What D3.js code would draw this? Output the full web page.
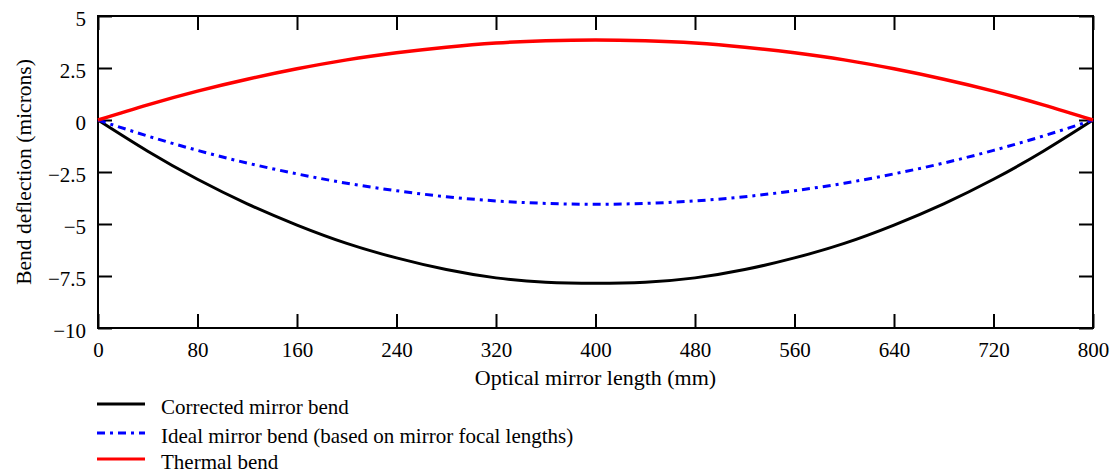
<!DOCTYPE html>
<html>
<head>
<meta charset="utf-8">
<script src="https://cdn.jsdelivr.net/npm/d3@7"></script>
<style>
  html, body { margin: 0; padding: 0; background: #fff; }
  svg { display: block; }
  svg text { font-family: "Liberation Serif", Tinos, "DejaVu Serif", serif !important; fill: #000; }
</style>
</head>
<body>
<svg id="chart" width="1113" height="469" font-family="Liberation Serif, DejaVu Serif, serif"></svg>
<script>
// Mirror length positions (mm)
const positions = [0, 40, 80, 120, 160, 200, 240, 280, 320, 360, 400,
                   440, 480, 520, 560, 600, 640, 680, 720, 760, 800];

// Bend deflection (microns)
const correctedBend = [0, -1.50, -2.85, -4.03, -5.05, -5.93, -6.63, -7.19, -7.59, -7.80, -7.85,
                       -7.80, -7.59, -7.19, -6.63, -5.93, -5.05, -4.03, -2.85, -1.50, 0];
const idealBend = [0, -0.77, -1.46, -2.07, -2.59, -3.04, -3.40, -3.69, -3.89, -4.01, -4.05,
                   -4.01, -3.89, -3.69, -3.40, -3.04, -2.59, -2.07, -1.46, -0.77, 0];
const thermalBend = [0, 0.73, 1.39, 1.96, 2.46, 2.89, 3.23, 3.50, 3.70, 3.81, 3.85,
                     3.81, 3.70, 3.50, 3.23, 2.89, 2.46, 1.96, 1.39, 0.73, 0];

// Axis ticks
const xTicks = [0, 80, 160, 240, 320, 400, 480, 560, 640, 720, 800];
const yTicks = [5, 2.5, 0, -2.5, -5, -7.5, -10];
const yTickLabels = ["5", "2.5", "0", "\u22122.5", "\u22125", "\u22127.5", "\u221210"];

const seriesNames = ["Corrected mirror bend",
                     "Ideal mirror bend (based on mirror focal lengths)",
                     "Thermal bend"];
const seriesColors = ["#000000", "#0000ff", "#ff0000"];

const fontFamily = "'Liberation Serif', Tinos, 'DejaVu Serif', serif";

const svg = d3.select("#chart");
const plotLeft = 98, plotRight = 1093, plotTop = 16, plotBottom = 328;

const x = d3.scaleLinear().domain([0, 800]).range([plotLeft, plotRight]);
const y = d3.scaleLinear().domain([-10, 5]).range([plotBottom, plotTop]);

// Frame
svg.append("rect")
  .attr("x", plotLeft).attr("y", plotTop)
  .attr("width", plotRight - plotLeft).attr("height", plotBottom - plotTop)
  .attr("fill", "none").attr("stroke", "#000").attr("stroke-width", 2);

const tickLen = 14;

// Bottom axis: inward ticks with labels
const gx = svg.append("g").attr("transform", `translate(0,${plotBottom})`)
  .call(d3.axisBottom(x).tickValues(xTicks).tickFormat(d3.format("d"))
        .tickSizeInner(-tickLen).tickSizeOuter(0).tickPadding(0));
gx.attr("font-family", fontFamily).attr("font-size", 21);
gx.select(".domain").remove();
gx.selectAll("line").attr("stroke", "#000").attr("stroke-width", 2);
gx.selectAll("text").attr("y", 29).attr("dy", null);

// Top axis: ticks only
const gxt = svg.append("g").attr("transform", `translate(0,${plotTop})`)
  .call(d3.axisTop(x).tickValues(xTicks).tickFormat("")
        .tickSizeInner(-tickLen).tickSizeOuter(0));
gxt.select(".domain").remove();
gxt.selectAll("line").attr("stroke", "#000").attr("stroke-width", 2);

// Left axis: inward ticks with labels
const gy = svg.append("g").attr("transform", `translate(${plotLeft},0)`)
  .call(d3.axisLeft(y).tickValues(yTicks).tickFormat((d, i) => yTickLabels[i])
        .tickSizeInner(-tickLen).tickSizeOuter(0).tickPadding(0));
gy.attr("font-family", fontFamily).attr("font-size", 21);
gy.select(".domain").remove();
gy.selectAll("line").attr("stroke", "#000").attr("stroke-width", 2);
gy.selectAll("text").attr("x", -12).attr("dy", null).attr("y", 9);

// Right axis: ticks only
const gyr = svg.append("g").attr("transform", `translate(${plotRight},0)`)
  .call(d3.axisRight(y).tickValues(yTicks).tickFormat("")
        .tickSizeInner(-tickLen).tickSizeOuter(0));
gyr.select(".domain").remove();
gyr.selectAll("line").attr("stroke", "#000").attr("stroke-width", 2);

// Axis titles
svg.append("text")
  .attr("x", (plotLeft + plotRight) / 2).attr("y", 385)
  .attr("text-anchor", "middle")
  .attr("font-family", fontFamily)
  .attr("font-size", 22)
  .text("Optical mirror length (mm)");

svg.append("text")
  .attr("transform", `translate(31,${(plotTop + plotBottom) / 2}) rotate(-90)`)
  .attr("text-anchor", "middle")
  .attr("font-family", fontFamily)
  .attr("font-size", 21.5)
  .text("Bend deflection (microns)");

// Curves
const line = d3.line().x((d, i) => x(positions[i])).y(d => y(d)).curve(d3.curveNatural);
const series = [correctedBend, idealBend, thermalBend];
const dashes = [null, "8,5,3,5", null];
const widths = [3, 3, 3.5];

const plot = svg.append("g");
series.forEach((s, k) => {
  plot.append("path")
    .datum(s)
    .attr("d", line)
    .attr("fill", "none")
    .attr("stroke", seriesColors[k])
    .attr("stroke-width", widths[k])
    .attr("stroke-dasharray", dashes[k]);
});

// Legend
const legendY = [404, 433, 459];
const legend = svg.append("g");
seriesNames.forEach((name, k) => {
  legend.append("line")
    .attr("x1", 97).attr("x2", 145)
    .attr("y1", legendY[k]).attr("y2", legendY[k])
    .attr("stroke", seriesColors[k])
    .attr("stroke-width", 3)
    .attr("stroke-dasharray", dashes[k]);
  legend.append("text")
    .attr("x", 161).attr("y", legendY[k] + 10)
    .attr("font-family", fontFamily)
    .attr("font-size", 21)
    .text(name);
});
</script>
</body>
</html>
